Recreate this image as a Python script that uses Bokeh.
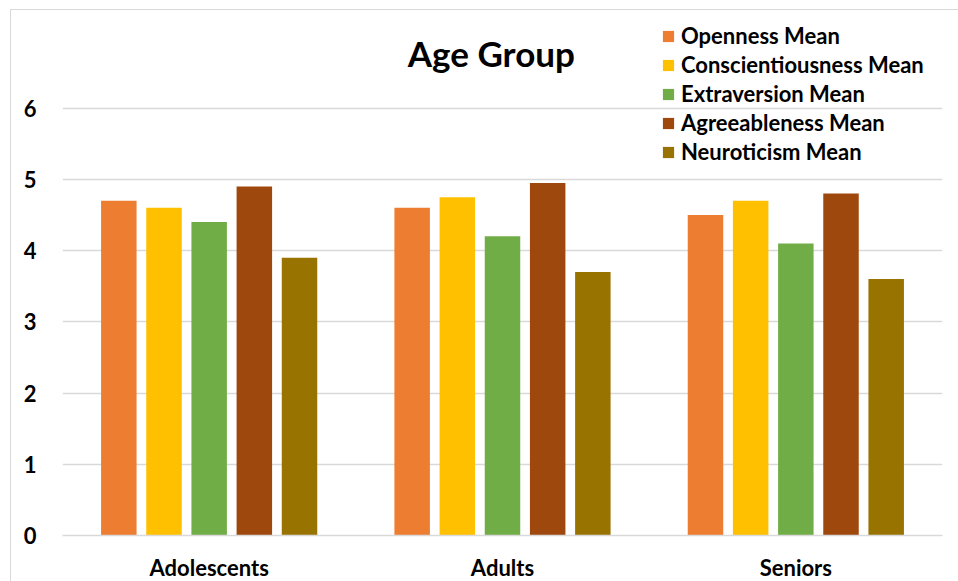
from bokeh.plotting import figure
from bokeh.models import FactorRange, Range1d, Legend, LegendItem, Label, FixedTicker
from bokeh.models import ColumnDataSource
from bokeh.transform import dodge
from bokeh.embed import file_html
from bokeh.resources import INLINE

groups = ["Adolescents", "Adults", "Seniors"]
series = ["Openness Mean", "Conscientiousness Mean", "Extraversion Mean",
          "Agreeableness Mean", "Neuroticism Mean"]
openness = [4.7, 4.6, 4.5]
conscientiousness = [4.6, 4.75, 4.7]
extraversion = [4.4, 4.2, 4.1]
agreeableness = [4.9, 4.95, 4.8]
neuroticism = [3.9, 3.7, 3.6]
colors = ["#ED7D31", "#FFC000", "#70AD47", "#9E480E", "#997300"]
y_ticks = [0, 1, 2, 3, 4, 5, 6]

FONT = "Lato"

source = ColumnDataSource(data=dict(
    group=groups,
    openness=openness,
    conscientiousness=conscientiousness,
    extraversion=extraversion,
    agreeableness=agreeableness,
    neuroticism=neuroticism,
))
columns = ["openness", "conscientiousness", "extraversion", "agreeableness", "neuroticism"]

# the frame runs up to the chart border so that title and legend sit inside it;
# gridlines stop at 6
p = figure(
    x_range=FactorRange(*groups, range_padding=0),
    y_range=Range1d(0, 7.371),
    width=949, height=573,
    output_backend="svg", toolbar_location=None,
    min_border_left=51, min_border_right=18,
    min_border_top=0, min_border_bottom=44,
    margin=(9, 0, 0, 10),
)
p.styles = {"border": "1px solid #d9d9d9", "box-sizing": "border-box"}
p.outline_line_color = None
p.background_fill_color = "white"
p.border_fill_color = "white"

# grouped bars
step = 0.154
width = 0.121
items = []
for i, (col, name, c) in enumerate(zip(columns, series, colors)):
    r = p.vbar(x=dodge("group", (i - 2) * step, range=p.x_range), top=col,
               width=width, source=source, fill_color=c, line_color=None)
    items.append(LegendItem(label=name, renderers=[r]))

# axes
p.xgrid.grid_line_color = None
p.ygrid.grid_line_color = "#d9d9d9"
p.ygrid.grid_line_width = 1.5
p.yaxis.ticker = FixedTicker(ticks=y_ticks)
p.yaxis.axis_line_color = None
p.yaxis.major_tick_line_color = None
p.yaxis.minor_tick_line_color = None
p.yaxis.major_label_standoff = 20
p.xaxis.axis_line_color = "#d9d9d9"
p.xaxis.axis_line_width = 1.5
p.xaxis.major_tick_line_color = None
p.xaxis.major_label_standoff = 12
for ax in (p.xaxis[0], p.yaxis[0]):
    ax.major_label_text_font = FONT
    ax.major_label_text_font_style = "bold"
    ax.major_label_text_font_size = "22px"
    ax.major_label_text_color = "#000000"

# chart title
title = Label(x=1.462, y=6.77, text="Age Group", text_align="center",
              text_baseline="middle", text_font=FONT, text_font_style="bold",
              text_font_size="35px", text_color="#000000")
p.add_layout(title)

legend = Legend(items=items, location=(599, 369), orientation="vertical",
                label_text_font=FONT, label_text_font_style="bold",
                label_text_font_size="22px", label_text_color="#000000",
                glyph_width=14, glyph_height=14, label_height=29,
                spacing=0, padding=0, margin=0, label_standoff=6,
                border_line_color=None, background_fill_alpha=0)
p.add_layout(legend)

open("out.html", "w").write(file_html(p, INLINE))
